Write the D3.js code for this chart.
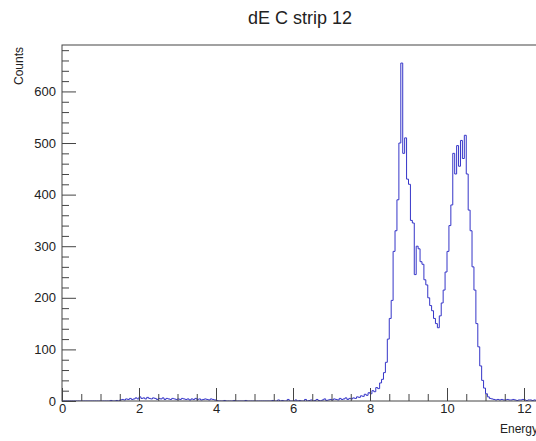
<!DOCTYPE html>
<html>
<head>
<meta charset="utf-8">
<script src="https://cdn.jsdelivr.net/npm/d3@7"></script>
<style>
  body { margin: 0; background: #fff; }
  svg { display: block; font-family: "Liberation Sans", Arial, Helvetica, sans-serif; }
</style>
</head>
<body>
<div id="chart"></div>
<script>
// --- DATA ---
const title = "dE C strip 12";
const xTitle = "Energy";
const yTitle = "Counts";
const binWidth = 0.05;   // histogram starts at 0
const xMax = 12.4;
const yMax = 690;
const xTicks = [0, 2, 4, 6, 8, 10, 12];
const yTicks = [0, 100, 200, 300, 400, 500, 600];

// counts per bin (0.05 wide)
const counts = [
  0,0,0,0,0,0,0,0,0,0, 0,0,0,0,0,0,0,0,0,0, 0,0,0,0,0,1,0,0,1,0,
  2,3,2,4,3,5,3,4,6,4, 8,5,6,4,7,5,4,6,5,3, 5,4,6,3,5,4,3,5,4,3,
  4,3,5,4,3,4,2,4,3,5, 3,4,2,3,4,3,2,4,3,2,
  1,0,0,0,1,0,0,0,0,1, 0,0,0,0,0,1,0,0,0,0, 0,0,0,0,0,0,0,0,0,1,
  0,0,2,0,1,0,0,3,0,0, 0,2,0,1,0,0,3,0,1,2,
  0,1,3,1,0,2,4,1,2,3, 2,4,3,2,5,3,4,6,3,5,
  4,6,5,8,7,10,9,13,11,16, 14,20,18,26,24,35,42,
  55,75,120,160,195,290,330,390,500,655, 480,510,430,420,350,345,245,300,295,270,
  265,235,225,200,185,175,160,150,142,165, 190,215,250,290,340,380,480,440,495,455,
  505,470,515,440,370,330,260,215,150,105, 68,40,25,14,8,5,
  4,3,2,3,2,3,2,2,3,2, 2,3,2,1,2,2,3,2,1,2, 2,1,2,1,2
];

// --- LAYOUT ---
const width = 536, height = 441;
const frame = {left: 62, top: 45, bottom: 401};
const pxPerUnit = 38.5;
const frameRight = frame.left + xMax * pxPerUnit;

const svg = d3.select("#chart").append("svg")
    .attr("width", width)
    .attr("height", height);

const x = d3.scaleLinear().domain([0, xMax]).range([frame.left, frameRight]);
const y = d3.scaleLinear().domain([0, yMax]).range([frame.bottom, frame.top]);

const axisColor = "#444";

// histogram outline
const pts = counts.map((c, i) => [i * binWidth, c]);
pts.push([counts.length * binWidth, counts[counts.length - 1]]);

svg.append("clipPath").attr("id", "clip")
  .append("rect")
    .attr("x", frame.left).attr("y", frame.top)
    .attr("width", frameRight - frame.left)
    .attr("height", frame.bottom - frame.top);

svg.append("path")
    .datum(pts)
    .attr("clip-path", "url(#clip)")
    .attr("fill", "none")
    .attr("stroke", "#3535c8")
    .attr("stroke-width", 1)
    .attr("d", d3.line()
        .x(d => x(d[0]))
        .y(d => y(d[1]))
        .curve(d3.curveStepAfter));

// frame
svg.append("rect")
    .attr("x", frame.left).attr("y", frame.top)
    .attr("width", frameRight - frame.left)
    .attr("height", frame.bottom - frame.top)
    .attr("fill", "none")
    .attr("stroke", axisColor)
    .attr("stroke-width", 1);

// y axis: minor + major ticks pointing inside
const yMinor = d3.range(0, yMax, 20).filter(v => v % 100 !== 0);
svg.append("g")
    .attr("transform", `translate(${frame.left},0)`)
    .call(d3.axisLeft(y).tickValues(yMinor).tickSize(-7).tickFormat(""))
    .call(g => g.select(".domain").remove())
    .selectAll("line").attr("stroke", axisColor);

svg.append("g")
    .attr("transform", `translate(${frame.left},0)`)
    .call(d3.axisLeft(y).tickValues(yTicks).tickSize(-14).tickPadding(6))
    .call(g => g.select(".domain").remove())
    .call(g => g.selectAll("line").attr("stroke", axisColor))
    .call(g => g.selectAll("text").attr("font-size", 13).attr("fill", "#222")
        .attr("font-family", "Liberation Sans, Arial, sans-serif"));

// x axis
const xMinor = d3.range(0.5, xMax, 0.5).filter(v => v % 2 !== 0);
svg.append("g")
    .attr("transform", `translate(0,${frame.bottom})`)
    .call(d3.axisBottom(x).tickValues(xMinor).tickSize(-7).tickFormat(""))
    .call(g => g.select(".domain").remove())
    .selectAll("line").attr("stroke", axisColor);

svg.append("g")
    .attr("transform", `translate(0,${frame.bottom})`)
    .call(d3.axisBottom(x).tickValues(xTicks).tickSize(-13).tickPadding(3))
    .call(g => g.select(".domain").remove())
    .call(g => g.selectAll("line").attr("stroke", axisColor))
    .call(g => g.selectAll("text").attr("font-size", 13).attr("fill", "#222")
        .attr("font-family", "Liberation Sans, Arial, sans-serif"));

// titles
svg.append("text")
    .attr("x", 300).attr("y", 24)
    .attr("text-anchor", "middle")
    .attr("font-size", 18)
    .attr("fill", "#222")
    .text(title);

svg.append("text")
    .attr("transform", `translate(23,${frame.top + 2}) rotate(-90)`)
    .attr("text-anchor", "end")
    .attr("font-size", 12)
    .attr("fill", "#222")
    .text(yTitle);

svg.append("text")
    .attr("x", 538).attr("y", 433)
    .attr("text-anchor", "end")
    .attr("font-size", 12)
    .attr("fill", "#222")
    .text(xTitle);
</script>
</body>
</html>
